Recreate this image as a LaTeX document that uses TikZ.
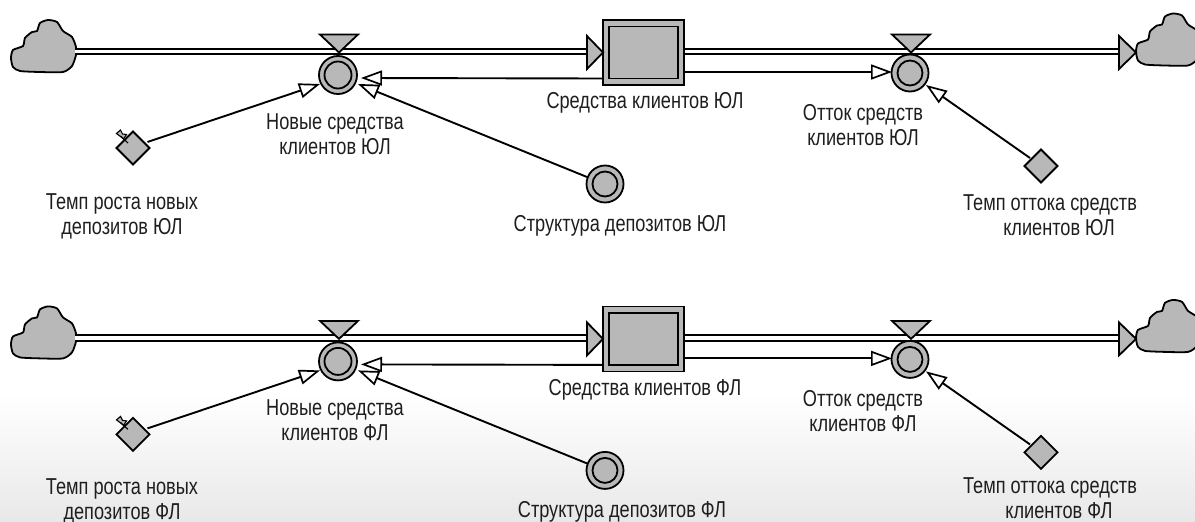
\documentclass[tikz,border=0pt]{standalone}
\usepackage{fontspec}
\setmainfont{Liberation Sans}[FakeStretch=0.79]
\usetikzlibrary{arrows.meta,shapes.geometric,calc}
\definecolor{sdgray}{RGB}{184,184,184}
\definecolor{bglow}{RGB}{232,232,232}
\definecolor{txtc}{RGB}{30,30,30}
\tikzset{
  x=1pt,y=-1pt,
  lnk/.style={line width=1.9pt,black,-{Triangle[open,fill=white,length=21pt,width=15pt,line width=1.7pt]}},
  pipe/.style={double=white,double distance=3.8pt,line width=1.9pt,black},
  sdfill/.style={fill=sdgray,draw=black,line width=1.8pt,line join=miter},
  ring/.style={circle,sdfill,minimum size=#1pt,inner sep=0pt,outer sep=0pt},
  diam/.style={diamond,sdfill,minimum size=33pt,inner sep=0pt,outer sep=0pt},
  lbl/.style={font=\fontsize{23}{25}\selectfont,text=txtc,align=center,inner sep=0pt,anchor=center},
}
\newcommand{\cloudpath}{%
  plot[smooth cycle,tension=0.4] coordinates {(11,58) (13,50) (23,46) (25,38) (32,32) (37,31) (40,23) (48,20) (57,22) (63,31) (72,37) (76,47) (76,55) (72,66) (63,72) (40,72) (20,71) (13,67)}}
\begin{document}
\begin{tikzpicture}
\useasboundingbox (0,0) rectangle (1195,522);
\shade[top color=white,bottom color=bglow] (0,395) rectangle (1195,522);
\clip (0,0) rectangle (1195,522);
\foreach \r/\dy/\tdy/\sx/\lab in {a/0/0/620/ЮЛ,b/286.4/-2/622/ФЛ}{
\begin{scope}[shift={(0,\dy)}]
  % clouds
  \draw[sdfill] \cloudpath;
  \draw[sdfill,shift={(1125,-6.5)}] \cloudpath;
  \coordinate (cl\r) at (75,51.5);
  % stock
  \node[rectangle,sdfill,minimum width=81pt,minimum height=65pt] (st\r) at (643.5,52.5) {};
  \node[rectangle,sdfill,minimum width=68.5pt,minimum height=52pt] (sti\r) at (643.5,52.5) {};
  % converters and flows
  \node[ring=38] (nw\r) at (338,75) {};
  \node[ring=27] (nwi\r) at (338,75) {};
  \node[ring=37] (ot\r) at (910,73) {};
  \node[ring=25] (oti\r) at (910,73) {};
  \node[ring=37] (sr\r) at (605,184) {};
  \node[ring=25] (sri\r) at (605,184) {};
  \node[diam] (dg\r) at (133,148) {};
  \node[diam] (dl\r) at (1041,166) {};
  % ghost pin
  \draw[line width=1.1pt,fill=sdgray] (116.5,133.5) -- (120.5,130) -- (122.5,134) -- (126.5,134.5) -- (123.5,139) -- (120.5,136.5) -- cycle;
  \draw[line width=1.1pt] (120.5,136) -- (128,143);
  % pipes
  \coordinate (t1\r) at (587,51.5);
  \coordinate (t2\r) at (1119,51.5);
  \coordinate (sr1\r) at (684.5,51.5);
  \draw[pipe] (cl\r) -- (t1\r);
  \draw[pipe] (sr1\r) -- (t2\r);
  % flow triangles
  \draw[sdfill] (587,36) -- (603,52.5) -- (587,69) -- cycle;
  \draw[sdfill] (1119,36) -- (1136,52.5) -- (1119,69) -- cycle;
  \draw[sdfill] (320,34.5) -- (358,34.5) -- (339,52.5) -- cycle;
  \draw[sdfill] (892,34.5) -- (930,34.5) -- (911,52.5) -- cycle;
  % links
  \draw[lnk] ($(dg\r)+(14.5,-6)$) -- ($(nw\r)+(-18,9)$);
  \draw[lnk] ($(sr\r)+(-18,-7)$) -- ($(nw\r)+(20,9)$);
  \draw[lnk] ($(st\r)+(-40.5,26)$) -- ($(nw\r)+(23,3)$);
  \draw[lnk] ($(st\r)+(41,19.5)$) -- ($(ot\r)+(-18,-1)$);
  \draw[lnk] ($(dl\r)+(-11,-8)$) -- ($(ot\r)+(16,12)$);
  % labels
  \node[lbl] (l1\r) at (335,134) {Новые средства\\клиентов \lab};
  \node[lbl] (l2\r) at (122,216.5+\tdy) {Темп роста новых\\депозитов \lab};
  \node[lbl] (l3\r) at (645,103) {Средства клиентов \lab};
  \node[lbl] (l4\r) at (863,125) {Отток средств\\клиентов \lab};
  \node[lbl] (l5\r) at (\sx,225.5) {Структура депозитов \lab};
  \node[lbl] (l6\r) at (1050,215.5+1.7*\tdy) {Темп оттока средств\\\hspace*{18pt}клиентов \lab};
\end{scope}}
\end{tikzpicture}
\end{document}
